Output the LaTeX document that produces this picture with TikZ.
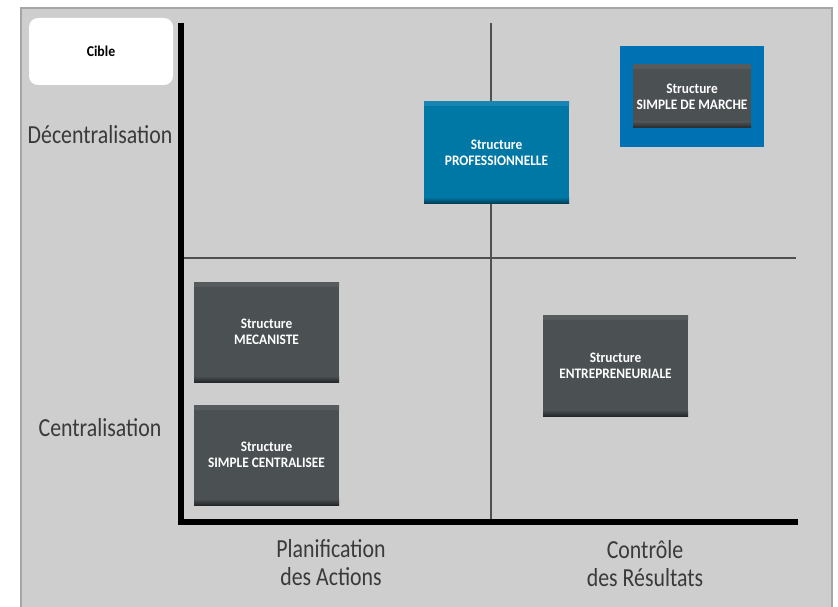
\documentclass[tikz,border=0pt]{standalone}
\usepackage{fontspec}
\setmainfont{Carlito}[FakeStretch=0.84]
\newfontfamily\boxfont{Carlito}[FakeStretch=0.92]
\definecolor{panel}{HTML}{CDCECD}
\definecolor{panelborder}{HTML}{A5A6A5}
\definecolor{boxgray}{HTML}{4B5053}
\definecolor{boxtop}{HTML}{565B5E}
\definecolor{boxbot}{HTML}{25282A}
\definecolor{blueA}{HTML}{0078A6}
\definecolor{blueAtop}{HTML}{1885B2}
\definecolor{blueAbot}{HTML}{003F5A}
\definecolor{blueB}{HTML}{0071B2}
\definecolor{labeltext}{HTML}{3A3A3A}
\definecolor{divider}{HTML}{505050}
\tikzset{
  boxbase/.style={minimum width=145pt, minimum height=100pt, inner sep=0pt, align=center,
    text=white, font=\boxfont\fontsize{14.5}{16}\selectfont\bfseries},
  graybox/.style={boxbase, fill=boxgray,
    path picture={
      \shade[top color=boxtop, bottom color=boxgray] (path picture bounding box.north west) rectangle ([yshift=-4pt]path picture bounding box.north east);
      \shade[top color=boxgray, bottom color=boxbot] ([yshift=6pt]path picture bounding box.south west) rectangle (path picture bounding box.south east);
    }},
  bluebox/.style={boxbase, fill=blueA,
    path picture={
      \shade[top color=blueAtop, bottom color=blueA] (path picture bounding box.north west) rectangle ([yshift=-4pt]path picture bounding box.north east);
      \shade[top color=blueA, bottom color=blueAbot] ([yshift=6pt]path picture bounding box.south west) rectangle (path picture bounding box.south east);
    }},
  axislabel/.style={text=labeltext, font=\fontsize{26}{28}\selectfont, align=center, inner sep=0pt},
  axisline/.style={line width=6pt, black},
  divline/.style={line width=1.3pt, divider}
}
\begin{document}
\begin{tikzpicture}[x=1pt,y=-1pt]
\useasboundingbox (0,0) rectangle (838,607);
\fill[white] (0,0) rectangle (838,607);
% panel
\filldraw[fill=panel, draw=panelborder, line width=2pt] (21,8) rectangle (832,610);
% cible
\node[fill=white, rounded corners=9pt, minimum width=144pt, minimum height=67pt, inner sep=0pt,
  font=\boxfont\fontsize{15}{16}\selectfont\bfseries] (cible) at (101,51.5) {Cible};
% dividers
\coordinate (vtop) at (491,23);
\coordinate (vbot) at (491,519);
\coordinate (hleft) at (181,258);
\coordinate (hright) at (796,258);
\draw[divline] (vtop) -- (vbot);
\draw[divline] (hleft) -- (hright);
% axes
\coordinate (ytop) at (181,23);
\coordinate (orig) at (181,522);
\coordinate (xend) at (798,522);
\draw[axisline] (ytop) -- ([yshift=-3pt]orig);
\draw[axisline] ([xshift=-3pt]orig) -- (xend);
% boxes
\node[bluebox, minimum width=145pt, minimum height=101pt] (pro) at (496.5,152.5) {Structure\\PROFESSIONNELLE};
\node[fill=blueB, minimum width=144pt, minimum height=101pt, inner sep=0pt] (marcheouter) at (692,96.5) {};
\node[graybox, minimum width=118pt, minimum height=63pt] (marche) at (692,96.5) {Structure\\SIMPLE DE MARCHE};
\node[graybox] (meca) at (266.5,332) {Structure\\MECANISTE};
\node[graybox] (simplec) at (266.5,455) {Structure\\SIMPLE CENTRALISEE};
\node[graybox, minimum height=101pt] (entre) at (615.5,365.5) {Structure\\ENTREPRENEURIALE};
% axis labels
\node[axislabel] (decen) at (100,135) {Décentralisation};
\node[axislabel] (cen) at (100,428) {Centralisation};
\node[axislabel] (plan) at (331,563) {Planification\\des Actions};
\node[axislabel] (ctrl) at (645,564) {Contrôle\\des Résultats};
\end{tikzpicture}
\end{document}
